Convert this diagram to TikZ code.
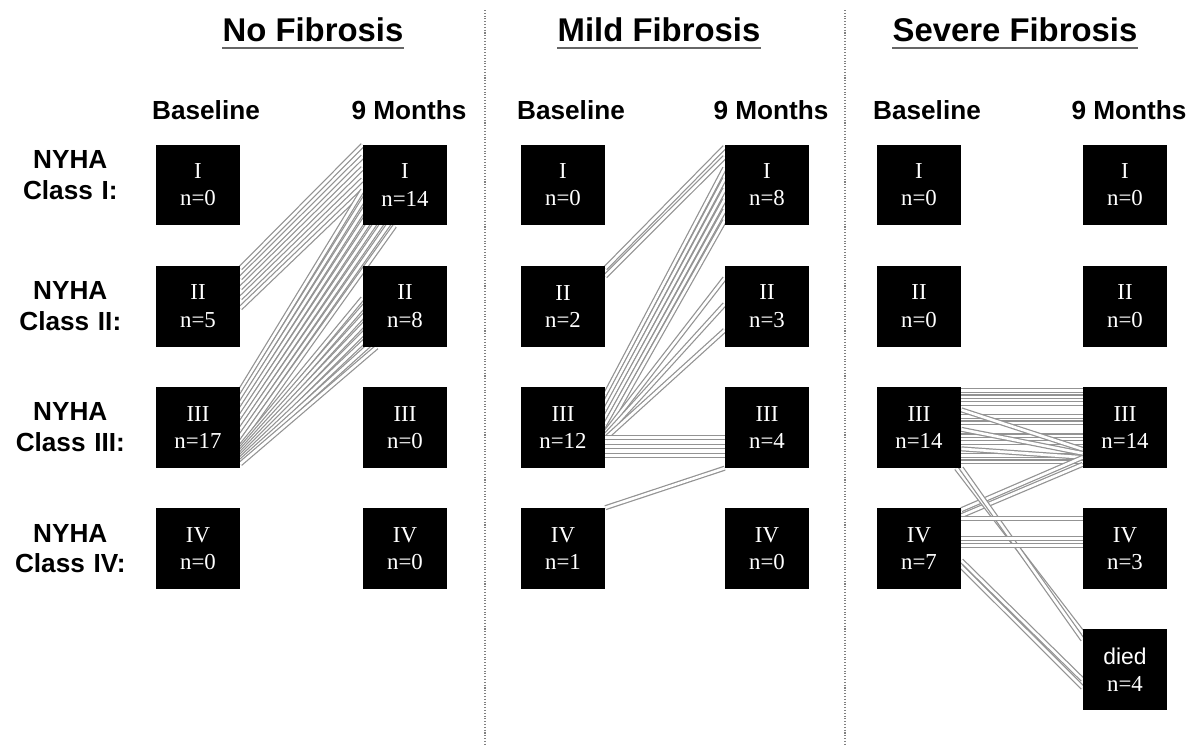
\documentclass[tikz,border=0pt]{standalone}
\usepackage{fontspec}
\setmainfont{Liberation Serif}
\setsansfont{Liberation Sans}
\usetikzlibrary{positioning,calc,backgrounds}

\begin{document}
\begin{tikzpicture}[
    x=0.02cm, y=-0.02cm,
    box/.style={rectangle, fill=black, text=white, minimum width=1.68cm, minimum height=1.62cm, inner sep=0pt, align=center, font=\fontsize{13}{15.5}\selectfont},
    colhead/.style={font=\sffamily\bfseries\fontsize{14.9}{17}\selectfont},
    rowhead/.style={font=\sffamily\bfseries\fontsize{14.9}{17.5}\selectfont, text width=2.6cm, inner sep=0pt, align=center},
    paneltitle/.style={font=\sffamily\bfseries\fontsize{18.7}{22}\selectfont, inner sep=0pt},
    uline/.style={line width=1.2pt, gray!80!black},
    patient/.style={draw=gray!85, line width=0.7pt, double=white, double distance=1.5pt},
    divider/.style={draw=gray, densely dotted, line width=0.6pt}
]
    \useasboundingbox (0,0) rectangle (1195,744);

    % Panel titles
    \node[paneltitle] (tno) at (313,30) {No Fibrosis};
    \node[paneltitle] (tmild) at (659,30) {Mild Fibrosis};
    \node[paneltitle] (tsev) at (1015,30) {Severe Fibrosis};
    \draw[uline] ($(tno.base west)+(0,6)$) -- ($(tno.base east)+(0,6)$);
    \draw[uline] ($(tmild.base west)+(0,6)$) -- ($(tmild.base east)+(0,6)$);
    \draw[uline] ($(tsev.base west)+(0,6)$) -- ($(tsev.base east)+(0,6)$);

    % Dividers
    \draw[divider] (485,10) -- (485,744);
    \draw[divider] (845,10) -- (845,744);

    % No fibrosis
    \node[box] (nb1) at (198,185) {I\\n=0};
    \node[box, below=0.79cm of nb1] (nb2) {II\\n=5};
    \node[box, below=0.79cm of nb2] (nb3) {III\\n=17};
    \node[box, below=0.79cm of nb3] (nb4) {IV\\n=0};
    \node[box] (nm1) at (405,185) {I\\n=14};
    \node[box, below=0.79cm of nm1] (nm2) {II\\n=8};
    \node[box, below=0.79cm of nm2] (nm3) {III\\n=0};
    \node[box, below=0.79cm of nm3] (nm4) {IV\\n=0};

    % Mild fibrosis
    \node[box] (mb1) at (563,185) {I\\n=0};
    \node[box, below=0.79cm of mb1] (mb2) {II\\n=2};
    \node[box, below=0.79cm of mb2] (mb3) {III\\n=12};
    \node[box, below=0.79cm of mb3] (mb4) {IV\\n=1};
    \node[box] (mm1) at (767,185) {I\\n=8};
    \node[box, below=0.79cm of mm1] (mm2) {II\\n=3};
    \node[box, below=0.79cm of mm2] (mm3) {III\\n=4};
    \node[box, below=0.79cm of mm3] (mm4) {IV\\n=0};

    % Severe fibrosis
    \node[box] (sb1) at (919,185) {I\\n=0};
    \node[box, below=0.79cm of sb1] (sb2) {II\\n=0};
    \node[box, below=0.79cm of sb2] (sb3) {III\\n=14};
    \node[box, below=0.79cm of sb3] (sb4) {IV\\n=7};
    \node[box] (sm1) at (1125,185) {I\\n=0};
    \node[box, below=0.79cm of sm1] (sm2) {II\\n=0};
    \node[box, below=0.79cm of sm2] (sm3) {III\\n=14};
    \node[box, below=0.79cm of sm3] (sm4) {IV\\n=3};
    \node[box, below=0.79cm of sm4] (sdied) {{\sffamily died}\\n=4};

    % Column and row headings
    \node[colhead, above=0.36cm of nb1, xshift=0.16cm] {Baseline};
    \node[colhead, above=0.36cm of nm1, xshift=0.08cm] {9 Months};
    \node[colhead, above=0.36cm of mb1, xshift=0.16cm] {Baseline};
    \node[colhead, above=0.36cm of mm1, xshift=0.08cm] {9 Months};
    \node[colhead, above=0.36cm of sb1, xshift=0.16cm] {Baseline};
    \node[colhead, above=0.36cm of sm1, xshift=0.08cm] {9 Months};
    \node[rowhead, left=0.4cm of nb1, yshift=0.2cm] {NYHA\\Class I:};
    \node[rowhead, left=0.4cm of nb2] {NYHA\\Class II:};
    \node[rowhead, left=0.4cm of nb3] {NYHA\\Class III:};
    \node[rowhead, left=0.4cm of nb4] {NYHA\\Class IV:};

    % One line per patient
    \begin{pgfonlayer}{background}
    \foreach \i in {0,...,4}
        \draw[patient] ($(nb2.east)+(0,-38+10*\i)$) -- ($(nm1.west)+(0,-40+11.5*\i)$);
    \foreach \i in {0,...,8}
        \draw[patient] ($(nb3.east)+(0,-37+6.5*\i)$) -- ($(nm1.west)+(4*\i,5+4.5*\i)$);
    \foreach \i in {0,...,7}
        \draw[patient] ($(nb3.east)+(0,19+2.5*\i)$) -- ($(nm2.west)+(2*\i,-8+7*\i)$);

    \foreach \i in {0,1}
        \draw[patient] ($(mb2.east)+(0,-38+8*\i)$) -- ($(mm1.west)+(0,-38+10*\i)$);
    \foreach \i in {0,...,5}
        \draw[patient] ($(mb3.east)+(0,-33+7.5*\i)$) -- ($(mm1.west)+(0,-17+10.5*\i)$);
    \foreach \i in {0,1,2}
        \draw[patient] ($(mb3.east)+(0,5+3*\i)$) -- ($(mm2.west)+(0,-28+26*\i)$);
    \foreach \i in {10,19,28}
        \draw[patient] ($(mb3.east)+(0,\i)$) -- ($(mm3.west)+(0,\i)$);
    \draw[patient] (mb4.north east) -- (mm3.south west);

    \foreach \i in {-37,-30.5,-24,-11,-4.5,8.5,15,28,34.5}
        \draw[patient] ($(sb3.east)+(0,\i)$) -- ($(sm3.west)+(0,\i)$);
    \foreach \i/\j in {-17.5/22,2/26,21.5/30}
        \draw[patient] ($(sb3.east)+(0,\i)$) -- ($(sm3.west)+(0,\j)$);
    \foreach \i/\j in {2/30,8/37}
        \draw[patient] ($(sb4.north east)+(0,\i)$) -- ($(sm3.west)+(0,\j)$);
    \foreach \i/\j in {-5/-37,0/-30}
        \draw[patient] ($(sb3.south east)+(\i,0)$) -- ($(sdied.west)+(0,\j)$);
    \foreach \i in {-30,-10,-3}
        \draw[patient] ($(sb4.east)+(0,\i)$) -- ($(sm4.west)+(0,\i)$);
    \foreach \i/\j in {12/10,18/18}
        \draw[patient] ($(sb4.east)+(0,\i)$) -- ($(sdied.west)+(0,\j)$);
    \end{pgfonlayer}
\end{tikzpicture}
\end{document}
